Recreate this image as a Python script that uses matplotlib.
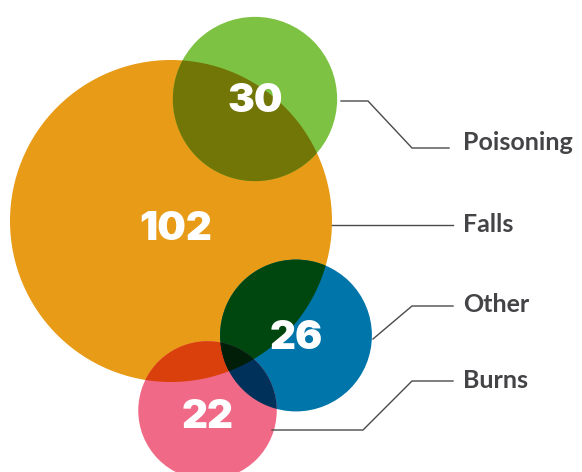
import itertools
import numpy as np
import matplotlib
matplotlib.use("Agg")
import matplotlib.pyplot as plt
from matplotlib.patches import Circle, PathPatch
from matplotlib.path import Path
from matplotlib.colors import to_rgb

# Injury counts by cause
categories = ["Falls", "Poisoning", "Other", "Burns"]
counts = [102, 30, 26, 22]
colors = ["#E89B17", "#7DC242", "#0075A9", "#F06A88"]

# Layout (pixel space, y downward)
centers = [(171, 221), (255, 99), (296, 335.5), (207.5, 410.5)]
value_offsets = [(5, 9), (0, 2), (0, 3), (0, 7)]
label_pos = [(463, 224), (463, 143), (463, 304), (463, 381)]
leaders = [
    [(332, 225), (453, 225)],
    [(341, 101), (368, 101), (412, 148), (449, 148)],
    [(373, 339), (412, 306), (453, 306)],
    [(272, 430), (363, 430), (412, 381), (453, 381)],
]
SIZE_EXP = 0.55
scale = 161 / max(counts) ** SIZE_EXP
radii = [scale * c ** SIZE_EXP for c in counts]

W, H = 582, 472
fig = plt.figure(figsize=(W / 100, H / 100), dpi=100)
ax = fig.add_axes([0, 0, 1, 1])
ax.set_xlim(0, W)
ax.set_ylim(H, 0)
ax.set_aspect("equal")
ax.axis("off")


def multiply(*cols):
    out = np.ones(3)
    for c in cols:
        out = out * np.array(to_rgb(c))
    return tuple(out)


def lens_path(c1, r1, c2, r2, n=200):
    c1 = np.asarray(c1, float)
    c2 = np.asarray(c2, float)
    d = np.hypot(*(c2 - c1))
    if d >= r1 + r2 or d <= abs(r1 - r2):
        return None
    a = (r1 ** 2 - r2 ** 2 + d ** 2) / (2 * d)
    a1 = np.arccos(np.clip(a / r1, -1, 1))
    a2 = np.arccos(np.clip((d - a) / r2, -1, 1))
    phi = np.arctan2(*(c2 - c1)[::-1])
    t1 = np.linspace(phi - a1, phi + a1, n)
    t2 = np.linspace(phi + np.pi - a2, phi + np.pi + a2, n)
    p1 = c1 + r1 * np.column_stack([np.cos(t1), np.sin(t1)])
    p2 = c2 + r2 * np.column_stack([np.cos(t2), np.sin(t2)])
    verts = np.vstack([p1, p2, p1[:1]])
    codes = [Path.MOVETO] + [Path.LINETO] * (len(verts) - 2) + [Path.CLOSEPOLY]
    return Path(verts, codes)


# Base discs
discs = []
for (cx, cy), r, col in zip(centers, radii, colors):
    p = Circle((cx, cy), r, facecolor=col, edgecolor="none", zorder=1)
    ax.add_patch(p)
    discs.append(p)

# Overlaps rendered with multiplied colours
n = len(counts)
for i, j in itertools.combinations(range(n), 2):
    path = lens_path(centers[i], radii[i], centers[j], radii[j])
    if path is None:
        continue
    ax.add_patch(PathPatch(path, facecolor=multiply(colors[i], colors[j]),
                           edgecolor="none", zorder=2))
for i, j, k in itertools.combinations(range(n), 3):
    path = lens_path(centers[i], radii[i], centers[j], radii[j])
    if path is None:
        continue
    pp = PathPatch(path, facecolor=multiply(colors[i], colors[j], colors[k]),
                   edgecolor="none", zorder=3)
    ax.add_patch(pp)
    pp.set_clip_path(discs[k])

# Values inside discs
for (cx, cy), (dx, dy), v in zip(centers, value_offsets, counts):
    ax.text(cx + dx, cy + dy, str(v), ha="center", va="center",
            color="white", fontsize=29, fontweight=900, family="Inter",
            zorder=5)

# Leader lines and category names
for pts, (lx, ly), name in zip(leaders, label_pos, categories):
    xs, ys = zip(*pts)
    ax.plot(xs, ys, color="#4a4a4a", lw=1.0, zorder=4, solid_joinstyle="miter")
    ax.text(lx, ly, name, ha="left", va="center", color="#444447",
            fontsize=18, fontweight="bold", family="Lato", zorder=5)

fig.savefig("out.png", dpi=100)
